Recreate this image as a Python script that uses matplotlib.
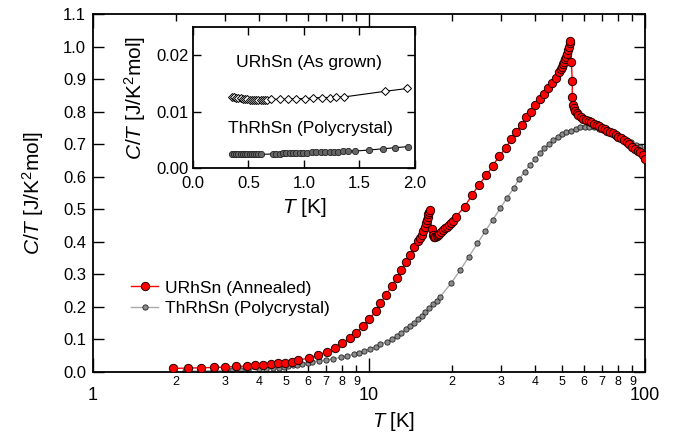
import math

import matplotlib

matplotlib.use("Agg")
import matplotlib.pyplot as plt
from matplotlib.ticker import LogLocator, FixedLocator, FuncFormatter

plt.rcParams["font.family"] = ["Liberation Sans", "DejaVu Sans"]
plt.rcParams["mathtext.fontset"] = "custom"
plt.rcParams["mathtext.rm"] = "Liberation Sans"
plt.rcParams["mathtext.it"] = "Liberation Sans:italic"

# URhSn (annealed), main panel
t_u = [1.95, 2.20, 2.47, 2.75, 3.02, 3.31, 3.60, 3.86, 4.14, 4.40, 4.67, 4.96,
       5.25, 5.55, 6.04, 6.53, 7.03, 7.53, 8.0, 8.5, 9.0, 9.5, 10.0, 10.6, 11.0,
       11.5, 12.1, 12.6, 13.1, 13.6, 14.1, 14.5, 15.1, 15.3, 15.5, 15.7, 15.9,
       16.1, 16.2, 16.3, 16.4, 16.5, 16.6, 16.9, 17.0, 17.2, 17.4, 17.6, 17.8,
       18.0, 18.3, 18.6, 18.9, 19.2, 19.5, 19.8, 20.1, 20.6, 22.2, 23.6, 25.0,
       26.6, 28.1, 29.6, 31.3, 32.7, 34.1, 35.7, 37.2, 38.6, 40.1, 41.5, 42.9,
       44.4, 46.0, 47.4, 48.7, 49.5, 50.0, 50.5, 50.9, 51.4, 51.9, 52.3, 52.7,
       53.0, 53.3, 53.5, 54.1, 54.5, 54.5, 54.9, 55.3, 55.9, 56.6, 57.4, 58.5,
       59.8, 61.1, 62.5, 63.9, 65.3, 66.8, 68.4, 70.0, 71.5, 73.1, 74.8, 76.5,
       78.3, 80.1, 82.0, 83.9, 85.8, 87.8, 89.8, 91.9, 94.0, 96.2, 98.5, 100.0]
ct_u = [0.011, 0.012, 0.013, 0.014, 0.015, 0.017, 0.018, 0.020, 0.022, 0.024,
        0.027, 0.029, 0.032, 0.036, 0.043, 0.052, 0.062, 0.075, 0.088, 0.103,
        0.121, 0.140, 0.162, 0.187, 0.211, 0.237, 0.264, 0.290, 0.314, 0.337,
        0.360, 0.383, 0.403, 0.412, 0.422, 0.434, 0.445, 0.458, 0.467, 0.476,
        0.486, 0.493, 0.498, 0.438, 0.420, 0.416, 0.415, 0.417, 0.420, 0.424,
        0.429, 0.435, 0.441, 0.446, 0.451, 0.457, 0.463, 0.476, 0.508, 0.543,
        0.575, 0.604, 0.634, 0.663, 0.688, 0.715, 0.738, 0.760, 0.782, 0.800,
        0.820, 0.838, 0.855, 0.872, 0.889, 0.904, 0.922, 0.930, 0.938, 0.946,
        0.953, 0.961, 0.969, 0.978, 0.989, 1.000, 1.012, 1.018, 0.951, 0.894,
        0.846, 0.820, 0.810, 0.802, 0.795, 0.789, 0.783, 0.778, 0.775, 0.771,
        0.767, 0.763, 0.759, 0.755, 0.751, 0.747, 0.742, 0.737, 0.733, 0.728,
        0.723, 0.718, 0.713, 0.707, 0.700, 0.692, 0.686, 0.680, 0.675, 0.668,
        0.655]

# ThRhSn (polycrystal), main panel
t_t = [2.15, 2.45, 2.72, 3.0, 3.2, 3.45, 3.65, 4.0, 4.25, 4.5, 4.7, 4.9, 5.1,
       5.3, 5.5, 5.7, 6.0, 6.2, 6.6, 7.0, 7.4, 7.9, 8.3, 8.8, 9.2, 9.6, 10.1,
       10.6, 11.0, 11.6, 12.1, 12.6, 13.1, 13.6, 14.1, 14.5, 15.1, 15.5, 16.0,
       16.5, 17.1, 17.6, 18.1, 19.8, 21.4, 23.0, 24.7, 26.4, 28.1, 29.9, 31.6,
       33.4, 34.9, 36.6, 38.3, 40.0, 41.5, 43.2, 44.8, 46.5, 48.2, 50.0, 51.9,
       53.9, 56.0, 58.2, 60.5, 62.9, 65.4, 68.0, 70.7, 73.5, 76.4, 79.4, 82.5,
       85.7, 89.1, 92.6, 96.2]
ct_t = [0.003, 0.003, 0.004, 0.004, 0.005, 0.006, 0.007, 0.008, 0.010, 0.011,
        0.013, 0.015, 0.017, 0.020, 0.022, 0.025, 0.029, 0.032, 0.035, 0.037,
        0.040, 0.045, 0.049, 0.054, 0.059, 0.064, 0.071, 0.078, 0.085, 0.093,
        0.101, 0.110, 0.121, 0.131, 0.141, 0.151, 0.162, 0.172, 0.183, 0.196,
        0.208, 0.219, 0.231, 0.272, 0.313, 0.354, 0.395, 0.433, 0.468, 0.503,
        0.535, 0.564, 0.592, 0.614, 0.637, 0.655, 0.672, 0.687, 0.700, 0.713,
        0.723, 0.731, 0.737, 0.742, 0.748, 0.752, 0.754, 0.754, 0.752, 0.748,
        0.744, 0.739, 0.734, 0.729, 0.722, 0.714, 0.706, 0.698, 0.690]

# inset: URhSn (as grown)
t_ui = [0.35, 0.37, 0.39, 0.41, 0.43, 0.45, 0.47, 0.49, 0.51, 0.53, 0.55, 0.57,
        0.59, 0.61, 0.63, 0.65, 0.67, 0.70, 0.78, 0.86, 0.93, 1.01, 1.08, 1.16,
        1.23, 1.29, 1.36, 1.73, 1.93]
ct_ui = [0.0126, 0.0126, 0.0125, 0.0125, 0.0124, 0.0123, 0.0122, 0.0122,
         0.0121, 0.0121, 0.0120, 0.0120, 0.0120, 0.0120, 0.0121, 0.0121,
         0.0121, 0.0122, 0.0122, 0.0122, 0.0123, 0.0123, 0.0124, 0.0125,
         0.0125, 0.0126, 0.0126, 0.0136, 0.0141]

# inset: ThRhSn (polycrystal)
t_ti = [0.35, 0.37, 0.39, 0.41, 0.43, 0.45, 0.47, 0.49, 0.51, 0.53, 0.55, 0.57,
        0.59, 0.61, 0.72, 0.75, 0.78, 0.81, 0.84, 0.87, 0.90, 0.93, 0.96, 0.99,
        1.03, 1.07, 1.11, 1.15, 1.19, 1.23, 1.27, 1.31, 1.35, 1.40, 1.46, 1.59,
        1.71, 1.82, 1.94]
ct_ti = [0.0024, 0.0024, 0.0024, 0.0024, 0.0024, 0.0024, 0.0024, 0.0024,
         0.0024, 0.0024, 0.0024, 0.0024, 0.0024, 0.0024, 0.0025, 0.0025,
         0.0025, 0.0026, 0.0026, 0.0026, 0.0026, 0.0027, 0.0027, 0.0027,
         0.0027, 0.0028, 0.0028, 0.0028, 0.0028, 0.0029, 0.0029, 0.0029,
         0.0030, 0.0030, 0.0030, 0.0032, 0.0034, 0.0036, 0.0038]


def minor_digit(v, pos):
    # 20, 30 ... are shown as 2, 3 ...
    return f"{v / 10 ** math.floor(math.log10(v) + 1e-9):.0f}"


fig = plt.figure(figsize=(6.9, 4.33), dpi=100)
ax = fig.add_axes([0.1348, 0.1409, 0.80, 0.8268])

ax.plot(t_t, ct_t, "-o", color="#aaaaaa", lw=1, ms=3.8, mfc="#8c8c8c",
        mec="#222222", mew=0.6, label="ThRhSn (Polycrystal)", zorder=2)
ax.plot(t_u, ct_u, "-o", color="red", lw=1, ms=6, mfc="red",
        mec="#220000", mew=0.7, label="URhSn (Annealed)", zorder=3)

ax.set_xscale("log")
ax.set_xlim(1, 100)
ax.set_ylim(0, 1.1)
ax.set_yticks([i / 10 for i in range(12)])
ax.yaxis.set_major_formatter(FuncFormatter(lambda v, p: f"{v:.1f}"))
ax.xaxis.set_major_locator(FixedLocator([1, 10, 100]))
ax.xaxis.set_major_formatter(FuncFormatter(lambda v, p: f"{v:g}"))
ax.xaxis.set_minor_locator(LogLocator(base=10, subs=range(2, 10)))
ax.xaxis.set_minor_formatter(FuncFormatter(minor_digit))
ax.tick_params(axis="both", which="both", direction="in", top=True, right=True,
               width=1)
ax.tick_params(axis="x", which="major", length=10, pad=11, labelsize=13)
ax.tick_params(axis="x", which="minor", length=5, pad=3, labelsize=9)
ax.tick_params(axis="y", which="major", length=8, pad=5, labelsize=12)
for s in ax.spines.values():
    s.set_linewidth(1.3)

ax.set_xlabel(r"$T$ [K]", fontsize=14.5)
ax.xaxis.set_label_coords(0.545, -0.107)
ax.set_ylabel(r"$C/T$ [J/K$^2$mol]", fontsize=15, labelpad=12)

leg = ax.legend(handles=ax.get_lines()[::-1], loc="lower left",
                bbox_to_anchor=(0.04, 0.113), frameon=False, fontsize=12.5,
                handlelength=1.6, handletextpad=0.4, labelspacing=0.3)

# inset
ins = fig.add_axes([0.2797, 0.612, 0.3217, 0.3256])
ins.plot(t_ui, ct_ui, "-D", color="black", lw=0.8, ms=4, mfc="white",
         mec="black", mew=0.7)
ins.plot(t_ti, ct_ti, "-o", color="black", lw=0.8, ms=4.5, mfc="#666666",
         mec="#222222", mew=0.6)
ins.set_xlim(0, 2)
ins.set_ylim(0, 0.025)
ins.set_xticks([0, 0.5, 1.0, 1.5, 2.0])
ins.xaxis.set_major_formatter(FuncFormatter(lambda v, p: f"{v:.1f}"))
ins.set_yticks([0, 0.01, 0.02])
ins.yaxis.set_major_formatter(FuncFormatter(lambda v, p: f"{v:.2f}"))
ins.tick_params(axis="both", direction="in", top=True, right=True, length=6,
                width=1, labelsize=12, pad=3)
ins.tick_params(axis="x", pad=6)
for s in ins.spines.values():
    s.set_linewidth(1.3)
ins.set_xlabel(r"$T$ [K]", fontsize=15, labelpad=3)
ins.set_ylabel(r"$C/T$ [J/K$^2$mol]", fontsize=15, labelpad=6)
ins.text(0.387, 0.01876, "URhSn (As grown)", fontsize=12.6, va="center")
ins.text(0.315, 0.00708, "ThRhSn (Polycrystal)", fontsize=12.6, va="center")

fig.savefig("out.png", dpi=100)
